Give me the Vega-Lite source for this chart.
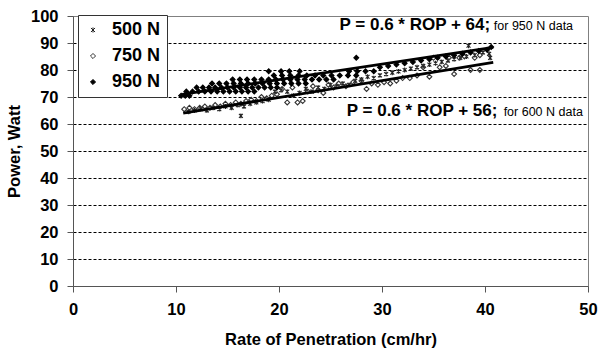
{
  "$schema": "https://vega.github.io/schema/vega-lite/v6.json",
  "width": 515,
  "height": 270,
  "autosize": {"type": "none"},
  "padding": {"left": 73, "top": 16, "right": 10, "bottom": 71},
  "background": "white",
  "config": {
    "font": "Liberation Sans",
    "view": {"stroke": "#808080", "strokeWidth": 1},
    "legend": {
      "orient": "none",
      "legendX": 5,
      "legendY": -1,
      "strokeColor": "#333333",
      "fillColor": "white",
      "padding": 6,
      "rowPadding": 8,
      "labelFontSize": 18,
      "labelFontWeight": "bold",
      "labelColor": "black",
      "labelFont": "Liberation Sans",
      "symbolSize": 26,
      "symbolStrokeWidth": 1,
      "labelOffset": 10
    }
  },
  "datasets": {
    "points": [
      {"load": "500 N", "rop": 11.2, "power": 64.5}, {"load": "500 N", "rop": 11.8, "power": 65}, {"load": "500 N", "rop": 12.4, "power": 65.5},
      {"load": "500 N", "rop": 13.0, "power": 65}, {"load": "500 N", "rop": 13.6, "power": 66}, {"load": "500 N", "rop": 14.2, "power": 65.5},
      {"load": "500 N", "rop": 14.8, "power": 66.5}, {"load": "500 N", "rop": 15.4, "power": 66}, {"load": "500 N", "rop": 16.0, "power": 67},
      {"load": "500 N", "rop": 16.3, "power": 63}, {"load": "500 N", "rop": 16.6, "power": 66.5}, {"load": "500 N", "rop": 17.2, "power": 67.5},
      {"load": "500 N", "rop": 17.8, "power": 68}, {"load": "500 N", "rop": 18.4, "power": 68.5}, {"load": "500 N", "rop": 19.0, "power": 69},
      {"load": "500 N", "rop": 19.6, "power": 72}, {"load": "500 N", "rop": 20.2, "power": 72.5}, {"load": "500 N", "rop": 20.8, "power": 72},
      {"load": "500 N", "rop": 21.4, "power": 70.5}, {"load": "500 N", "rop": 22.0, "power": 71.5}, {"load": "500 N", "rop": 22.6, "power": 73},
      {"load": "500 N", "rop": 23.2, "power": 72}, {"load": "500 N", "rop": 23.8, "power": 73.5}, {"load": "500 N", "rop": 24.4, "power": 73},
      {"load": "500 N", "rop": 25.0, "power": 74.5}, {"load": "500 N", "rop": 25.6, "power": 74}, {"load": "500 N", "rop": 26.2, "power": 75},
      {"load": "500 N", "rop": 26.8, "power": 74.5}, {"load": "500 N", "rop": 27.4, "power": 76}, {"load": "500 N", "rop": 28.0, "power": 76.5},
      {"load": "500 N", "rop": 28.6, "power": 77.5}, {"load": "500 N", "rop": 29.2, "power": 77}, {"load": "500 N", "rop": 29.8, "power": 78},
      {"load": "500 N", "rop": 30.4, "power": 78.5}, {"load": "500 N", "rop": 31.0, "power": 79}, {"load": "500 N", "rop": 31.6, "power": 79.5},
      {"load": "500 N", "rop": 32.2, "power": 80}, {"load": "500 N", "rop": 32.8, "power": 80.5}, {"load": "500 N", "rop": 33.4, "power": 81},
      {"load": "500 N", "rop": 34.0, "power": 81.5}, {"load": "500 N", "rop": 34.6, "power": 82}, {"load": "500 N", "rop": 35.2, "power": 82.5},
      {"load": "500 N", "rop": 35.8, "power": 83}, {"load": "500 N", "rop": 36.4, "power": 83.5}, {"load": "500 N", "rop": 37.0, "power": 84},
      {"load": "500 N", "rop": 37.6, "power": 84.5}, {"load": "500 N", "rop": 38.2, "power": 85}, {"load": "500 N", "rop": 38.4, "power": 89},
      {"load": "500 N", "rop": 39.0, "power": 85.5}, {"load": "500 N", "rop": 39.8, "power": 86.5}, {"load": "500 N", "rop": 40.4, "power": 86},
      {"load": "500 N", "rop": 40.5, "power": 84.5},
      {"load": "750 N", "rop": 10.8, "power": 65.5}, {"load": "750 N", "rop": 11.3, "power": 66}, {"load": "750 N", "rop": 11.8, "power": 65.5},
      {"load": "750 N", "rop": 12.3, "power": 66}, {"load": "750 N", "rop": 12.8, "power": 66.5}, {"load": "750 N", "rop": 13.3, "power": 66},
      {"load": "750 N", "rop": 13.8, "power": 67}, {"load": "750 N", "rop": 14.3, "power": 66.5}, {"load": "750 N", "rop": 14.8, "power": 67.5},
      {"load": "750 N", "rop": 15.3, "power": 67}, {"load": "750 N", "rop": 15.8, "power": 68}, {"load": "750 N", "rop": 16.3, "power": 67.5},
      {"load": "750 N", "rop": 16.8, "power": 68.5}, {"load": "750 N", "rop": 17.3, "power": 69}, {"load": "750 N", "rop": 17.8, "power": 68.5},
      {"load": "750 N", "rop": 18.3, "power": 70}, {"load": "750 N", "rop": 18.8, "power": 69.5}, {"load": "750 N", "rop": 19.3, "power": 70.5},
      {"load": "750 N", "rop": 19.8, "power": 71}, {"load": "750 N", "rop": 20.3, "power": 73}, {"load": "750 N", "rop": 20.8, "power": 68},
      {"load": "750 N", "rop": 21.3, "power": 73.5}, {"load": "750 N", "rop": 21.8, "power": 68}, {"load": "750 N", "rop": 22.3, "power": 68.5},
      {"load": "750 N", "rop": 22.8, "power": 72}, {"load": "750 N", "rop": 23.3, "power": 74}, {"load": "750 N", "rop": 23.8, "power": 72.5},
      {"load": "750 N", "rop": 24.3, "power": 71.5}, {"load": "750 N", "rop": 24.8, "power": 74.5}, {"load": "750 N", "rop": 25.3, "power": 73.5},
      {"load": "750 N", "rop": 25.8, "power": 75}, {"load": "750 N", "rop": 26.5, "power": 74}, {"load": "750 N", "rop": 27.2, "power": 75.5},
      {"load": "750 N", "rop": 28.0, "power": 76}, {"load": "750 N", "rop": 28.5, "power": 73}, {"load": "750 N", "rop": 29.0, "power": 75},
      {"load": "750 N", "rop": 29.6, "power": 74.5}, {"load": "750 N", "rop": 30.2, "power": 75.5}, {"load": "750 N", "rop": 30.8, "power": 75},
      {"load": "750 N", "rop": 31.4, "power": 76}, {"load": "750 N", "rop": 32.0, "power": 77}, {"load": "750 N", "rop": 32.7, "power": 77},
      {"load": "750 N", "rop": 33.4, "power": 78}, {"load": "750 N", "rop": 34.0, "power": 81}, {"load": "750 N", "rop": 34.6, "power": 77.5},
      {"load": "750 N", "rop": 35.0, "power": 84.5}, {"load": "750 N", "rop": 35.6, "power": 81}, {"load": "750 N", "rop": 36.2, "power": 81.5},
      {"load": "750 N", "rop": 36.5, "power": 84.5}, {"load": "750 N", "rop": 37.0, "power": 78.5}, {"load": "750 N", "rop": 37.5, "power": 84.5},
      {"load": "750 N", "rop": 38.0, "power": 85}, {"load": "750 N", "rop": 38.6, "power": 80}, {"load": "750 N", "rop": 39.0, "power": 84.5},
      {"load": "750 N", "rop": 39.5, "power": 80}, {"load": "750 N", "rop": 39.5, "power": 85.5},
      {"load": "950 N", "rop": 10.5, "power": 70.5}, {"load": "950 N", "rop": 10.9, "power": 70.5}, {"load": "950 N", "rop": 11.3, "power": 70.5},
      {"load": "950 N", "rop": 11.0, "power": 72}, {"load": "950 N", "rop": 11.6, "power": 72}, {"load": "950 N", "rop": 12.2, "power": 72},
      {"load": "950 N", "rop": 12.8, "power": 72}, {"load": "950 N", "rop": 13.4, "power": 72}, {"load": "950 N", "rop": 14.0, "power": 72},
      {"load": "950 N", "rop": 14.6, "power": 72}, {"load": "950 N", "rop": 15.2, "power": 72}, {"load": "950 N", "rop": 15.8, "power": 72},
      {"load": "950 N", "rop": 16.4, "power": 72}, {"load": "950 N", "rop": 17.0, "power": 72}, {"load": "950 N", "rop": 17.6, "power": 72},
      {"load": "950 N", "rop": 12.0, "power": 73.5}, {"load": "950 N", "rop": 12.6, "power": 73.5}, {"load": "950 N", "rop": 13.2, "power": 73.5},
      {"load": "950 N", "rop": 13.8, "power": 73.5}, {"load": "950 N", "rop": 14.4, "power": 73.5}, {"load": "950 N", "rop": 15.0, "power": 73.5},
      {"load": "950 N", "rop": 15.6, "power": 73.5}, {"load": "950 N", "rop": 16.2, "power": 73.5}, {"load": "950 N", "rop": 16.8, "power": 73.5},
      {"load": "950 N", "rop": 17.4, "power": 73.5}, {"load": "950 N", "rop": 18.0, "power": 73.5}, {"load": "950 N", "rop": 18.6, "power": 73.5},
      {"load": "950 N", "rop": 19.2, "power": 73.5}, {"load": "950 N", "rop": 19.8, "power": 73.5},
      {"load": "950 N", "rop": 13.5, "power": 75}, {"load": "950 N", "rop": 14.2, "power": 75}, {"load": "950 N", "rop": 14.9, "power": 75},
      {"load": "950 N", "rop": 15.6, "power": 75}, {"load": "950 N", "rop": 16.3, "power": 75}, {"load": "950 N", "rop": 17.0, "power": 75},
      {"load": "950 N", "rop": 17.7, "power": 75}, {"load": "950 N", "rop": 18.4, "power": 75}, {"load": "950 N", "rop": 19.1, "power": 75},
      {"load": "950 N", "rop": 19.8, "power": 75}, {"load": "950 N", "rop": 20.5, "power": 75}, {"load": "950 N", "rop": 21.2, "power": 75},
      {"load": "950 N", "rop": 21.9, "power": 75}, {"load": "950 N", "rop": 22.6, "power": 75},
      {"load": "950 N", "rop": 15.5, "power": 76.5}, {"load": "950 N", "rop": 16.2, "power": 76.5}, {"load": "950 N", "rop": 16.9, "power": 76.5},
      {"load": "950 N", "rop": 17.6, "power": 76.5}, {"load": "950 N", "rop": 18.3, "power": 76.5}, {"load": "950 N", "rop": 19.0, "power": 76.5},
      {"load": "950 N", "rop": 19.7, "power": 76.5}, {"load": "950 N", "rop": 20.4, "power": 76.5}, {"load": "950 N", "rop": 21.1, "power": 76.5},
      {"load": "950 N", "rop": 21.8, "power": 76.5}, {"load": "950 N", "rop": 22.5, "power": 76.5}, {"load": "950 N", "rop": 23.2, "power": 76.5},
      {"load": "950 N", "rop": 23.9, "power": 76.5}, {"load": "950 N", "rop": 24.6, "power": 76.5}, {"load": "950 N", "rop": 25.3, "power": 76.5},
      {"load": "950 N", "rop": 19.5, "power": 78}, {"load": "950 N", "rop": 20.3, "power": 78}, {"load": "950 N", "rop": 21.1, "power": 78},
      {"load": "950 N", "rop": 21.9, "power": 78}, {"load": "950 N", "rop": 22.7, "power": 78}, {"load": "950 N", "rop": 23.5, "power": 78},
      {"load": "950 N", "rop": 24.3, "power": 78}, {"load": "950 N", "rop": 25.1, "power": 78}, {"load": "950 N", "rop": 25.9, "power": 78},
      {"load": "950 N", "rop": 26.7, "power": 78}, {"load": "950 N", "rop": 27.5, "power": 78},
      {"load": "950 N", "rop": 19.0, "power": 79.5}, {"load": "950 N", "rop": 20.2, "power": 79.5}, {"load": "950 N", "rop": 21.0, "power": 79.5},
      {"load": "950 N", "rop": 22.0, "power": 79.5}, {"load": "950 N", "rop": 26.8, "power": 79.5}, {"load": "950 N", "rop": 27.6, "power": 79.5},
      {"load": "950 N", "rop": 28.4, "power": 79.5}, {"load": "950 N", "rop": 29.2, "power": 79.5}, {"load": "950 N", "rop": 27.5, "power": 84.5},
      {"load": "950 N", "rop": 29.8, "power": 81}, {"load": "950 N", "rop": 30.6, "power": 81.5}, {"load": "950 N", "rop": 31.4, "power": 82},
      {"load": "950 N", "rop": 32.2, "power": 82.5}, {"load": "950 N", "rop": 33.0, "power": 83}, {"load": "950 N", "rop": 33.8, "power": 83.5},
      {"load": "950 N", "rop": 34.6, "power": 84}, {"load": "950 N", "rop": 35.4, "power": 84.5}, {"load": "950 N", "rop": 36.2, "power": 85},
      {"load": "950 N", "rop": 37.0, "power": 85.5}, {"load": "950 N", "rop": 37.8, "power": 86}, {"load": "950 N", "rop": 38.6, "power": 86.5},
      {"load": "950 N", "rop": 39.4, "power": 87}, {"load": "950 N", "rop": 40.2, "power": 87.5}, {"load": "950 N", "rop": 40.6, "power": 88.5}
    ],
    "lines": [
      {"eq": "950", "rop": 10.6, "power": 71.0},
      {"eq": "950", "rop": 40.8, "power": 88.4},
      {"eq": "500", "rop": 10.7, "power": 64.0},
      {"eq": "500", "rop": 40.8, "power": 82.8}
    ],
    "eqbold": [
      {"rop": 40.5, "power": 96.5, "label": "P = 0.6 * ROP + 64;"},
      {"rop": 41.2, "power": 64.7, "label": "P = 0.6 * ROP + 56;"}
    ],
    "eqsmall": [
      {"rop": 48.55, "power": 96.3, "label": "for 950 N data"},
      {"rop": 49.5, "power": 64.5, "label": "for 600 N data"}
    ]
  },
  "encoding": {
    "x": {
      "field": "rop",
      "type": "quantitative",
      "scale": {"domain": [0, 50], "nice": false, "zero": false},
      "axis": {
        "title": "Rate of Penetration (cm/hr)",
        "values": [0, 10, 20, 30, 40, 50],
        "grid": false,
        "tickSize": 6,
        "labelPadding": 9,
        "labelFontSize": 16.5,
        "labelFontWeight": "bold",
        "labelColor": "black",
        "labelFlush": false,
        "labelOverlap": false,
        "domainColor": "#555555",
        "tickColor": "#555555",
        "titleFontSize": 16.5,
        "titleFontWeight": "bold",
        "titleColor": "black",
        "titlePadding": 14
      }
    },
    "y": {
      "field": "power",
      "type": "quantitative",
      "scale": {"domain": [0, 100], "nice": false},
      "axis": {
        "title": "Power, Watt",
        "values": [0, 10, 20, 30, 40, 50, 60, 70, 80, 90, 100],
        "grid": true,
        "gridColor": "black",
        "gridDash": [3, 2],
        "gridWidth": 1,
        "gridOpacity": {"condition": {"test": "datum.value === 0 || datum.value === 100", "value": 0}, "value": 1},
        "tickSize": 6,
        "labelPadding": 9,
        "labelFontSize": 16.5,
        "labelFontWeight": "bold",
        "labelColor": "black",
        "labelFlush": false,
        "labelOverlap": false,
        "domainColor": "#555555",
        "tickColor": "#555555",
        "titleFontSize": 16.5,
        "titleFontWeight": "bold",
        "titleColor": "black",
        "titlePadding": 8
      }
    }
  },
  "layer": [
    {
      "data": {"name": "points"},
      "mark": {"type": "point", "size": 24, "strokeWidth": 1.1, "opacity": 1},
      "encoding": {
        "shape": {
          "field": "load", "type": "nominal", "title": null,
          "scale": {"domain": ["500 N", "750 N", "950 N"], "range": ["M-0.8,-0.8L0.8,0.8M-0.8,0.8L0.8,-0.8M0,-1L0,1", "diamond", "diamond"]}
        },
        "fill": {
          "field": "load", "type": "nominal", "title": null,
          "scale": {"domain": ["500 N", "750 N", "950 N"], "range": ["transparent", "transparent", "black"]}
        },
        "stroke": {
          "field": "load", "type": "nominal", "title": null,
          "scale": {"domain": ["500 N", "750 N", "950 N"], "range": ["#222222", "#333333", "black"]}
        }
      }
    },
    {
      "data": {"name": "lines"},
      "mark": {"type": "line", "color": "black", "strokeWidth": 2.8},
      "encoding": {"detail": {"field": "eq", "type": "nominal"}}
    },
    {
      "data": {"name": "eqbold"},
      "mark": {"type": "text", "align": "right", "baseline": "middle", "fontWeight": "bold", "fontSize": 17, "color": "black", "font": "Liberation Sans"},
      "encoding": {"text": {"field": "label"}}
    },
    {
      "data": {"name": "eqsmall"},
      "mark": {"type": "text", "align": "right", "baseline": "middle", "fontSize": 12.5, "color": "black", "font": "Liberation Sans"},
      "encoding": {"text": {"field": "label"}}
    }
  ]
}
